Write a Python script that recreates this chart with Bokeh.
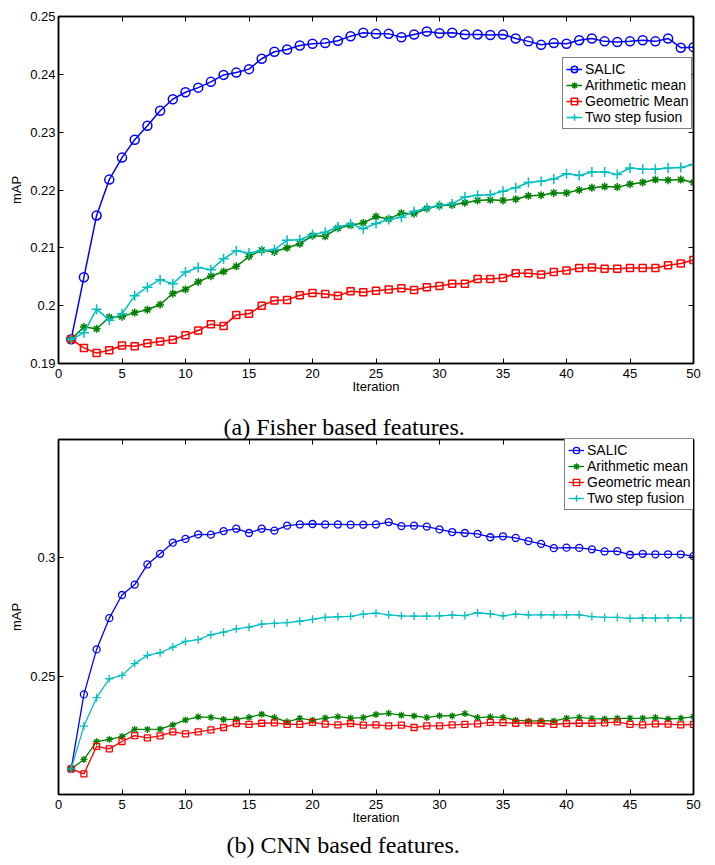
from bokeh.plotting import figure
from bokeh.models import Range1d, FixedTicker, LinearAxis, Title, Legend, LegendItem
from bokeh.layouts import column
from bokeh.embed import file_html
from bokeh.resources import INLINE

# ---------------- data ----------------
iterations = list(range(1, 51))
x_ticks = [0, 5, 10, 15, 20, 25, 30, 35, 40, 45, 50]
x_labels = ["0", "5", "10", "15", "20", "25", "30", "35", "40", "45", "50"]

fisher_y_ticks = [0.19, 0.2, 0.21, 0.22, 0.23, 0.24, 0.25]
fisher_y_labels = ["0.19", "0.2", "0.21", "0.22", "0.23", "0.24", "0.25"]
cnn_y_ticks = [0.25, 0.3]
cnn_y_labels = ["0.25", "0.3"]

fisher_salic = [0.1942, 0.2049, 0.2156, 0.2218, 0.2256, 0.2287, 0.2311, 0.2337, 0.2357, 0.2369,
                0.2377, 0.2387, 0.2399, 0.2403, 0.2409, 0.2427, 0.2439, 0.2443, 0.2450, 0.2453,
                0.2454, 0.2458, 0.2466, 0.2472, 0.2470, 0.2470, 0.2464, 0.2469, 0.2474, 0.2471,
                0.2472, 0.2469, 0.2469, 0.2468, 0.2469, 0.2462, 0.2457, 0.2451, 0.2454, 0.2453,
                0.2459, 0.2462, 0.2457, 0.2456, 0.2457, 0.2459, 0.2457, 0.2462, 0.2446, 0.2447]
fisher_arith = [0.1942, 0.1963, 0.1960, 0.1980, 0.1981, 0.1988, 0.1993, 0.2002, 0.2021, 0.2028,
                0.2041, 0.2051, 0.2059, 0.2068, 0.2085, 0.2096, 0.2093, 0.2100, 0.2107, 0.2121,
                0.2120, 0.2134, 0.2139, 0.2143, 0.2154, 0.2150, 0.2160, 0.2159, 0.2168, 0.2173,
                0.2174, 0.2178, 0.2182, 0.2183, 0.2182, 0.2184, 0.2190, 0.2191, 0.2195, 0.2195,
                0.2200, 0.2204, 0.2206, 0.2205, 0.2210, 0.2213, 0.2218, 0.2217, 0.2218, 0.2213]
fisher_geo = [0.1942, 0.1927, 0.1918, 0.1923, 0.1931, 0.1930, 0.1935, 0.1938, 0.1941, 0.1949,
              0.1957, 0.1968, 0.1965, 0.1984, 0.1986, 0.2000, 0.2009, 0.2010, 0.2018, 0.2022,
              0.2020, 0.2017, 0.2025, 0.2023, 0.2026, 0.2028, 0.2030, 0.2027, 0.2032, 0.2034,
              0.2038, 0.2038, 0.2046, 0.2046, 0.2048, 0.2056, 0.2056, 0.2054, 0.2058, 0.2061,
              0.2065, 0.2066, 0.2064, 0.2064, 0.2065, 0.2065, 0.2065, 0.2070, 0.2073, 0.2079]
fisher_two = [0.1942, 0.1953, 0.1994, 0.1975, 0.1986, 0.2017, 0.2032, 0.2045, 0.2038, 0.2058,
              0.2066, 0.2062, 0.2081, 0.2095, 0.2091, 0.2095, 0.2097, 0.2113, 0.2114, 0.2123,
              0.2127, 0.2136, 0.2141, 0.2133, 0.2142, 0.2149, 0.2153, 0.2163, 0.2169, 0.2173,
              0.2176, 0.2188, 0.2191, 0.2192, 0.2198, 0.2204, 0.2213, 0.2215, 0.2219, 0.2228,
              0.2225, 0.2231, 0.2231, 0.2227, 0.2238, 0.2236, 0.2236, 0.2238, 0.2239, 0.2244]

cnn_salic = [0.2108, 0.2423, 0.2613, 0.2745, 0.2843, 0.2887, 0.2972, 0.3017, 0.3064, 0.3080,
             0.3099, 0.3098, 0.3113, 0.3123, 0.3105, 0.3123, 0.3115, 0.3136, 0.3141, 0.3143,
             0.3141, 0.3141, 0.3140, 0.3140, 0.3141, 0.3151, 0.3134, 0.3136, 0.3132, 0.3120,
             0.3109, 0.3105, 0.3101, 0.3087, 0.3091, 0.3084, 0.3071, 0.3059, 0.3041, 0.3043,
             0.3042, 0.3036, 0.3027, 0.3028, 0.3013, 0.3017, 0.3015, 0.3015, 0.3015, 0.3007]
cnn_arith = [0.2108, 0.2148, 0.2223, 0.2233, 0.2245, 0.2275, 0.2275, 0.2276, 0.2294, 0.2315,
             0.2328, 0.2326, 0.2317, 0.2318, 0.2326, 0.2339, 0.2325, 0.2307, 0.2322, 0.2314,
             0.2323, 0.2329, 0.2323, 0.2325, 0.2338, 0.2343, 0.2335, 0.2332, 0.2325, 0.2333,
             0.2332, 0.2342, 0.2325, 0.2328, 0.2326, 0.2314, 0.2310, 0.2312, 0.2311, 0.2322,
             0.2326, 0.2321, 0.2319, 0.2322, 0.2322, 0.2322, 0.2325, 0.2319, 0.2322, 0.2329]
cnn_geo = [0.2108, 0.2087, 0.2203, 0.2193, 0.2224, 0.2249, 0.2239, 0.2248, 0.2265, 0.2256,
           0.2265, 0.2273, 0.2283, 0.2300, 0.2296, 0.2301, 0.2303, 0.2296, 0.2296, 0.2305,
           0.2297, 0.2294, 0.2300, 0.2293, 0.2294, 0.2290, 0.2293, 0.2283, 0.2290, 0.2290,
           0.2294, 0.2296, 0.2298, 0.2305, 0.2304, 0.2301, 0.2303, 0.2301, 0.2296, 0.2300,
           0.2301, 0.2301, 0.2303, 0.2307, 0.2296, 0.2294, 0.2298, 0.2297, 0.2294, 0.2296]
cnn_two = [0.2108, 0.2289, 0.2409, 0.2489, 0.2503, 0.2553, 0.2588, 0.2599, 0.2623, 0.2647,
           0.2654, 0.2675, 0.2686, 0.2700, 0.2707, 0.2720, 0.2723, 0.2726, 0.2732, 0.2740,
           0.2748, 0.2751, 0.2753, 0.2762, 0.2766, 0.2759, 0.2755, 0.2754, 0.2754, 0.2755,
           0.2758, 0.2756, 0.2768, 0.2763, 0.2755, 0.2762, 0.2759, 0.2759, 0.2759, 0.2759,
           0.2759, 0.2752, 0.2748, 0.2748, 0.2744, 0.2746, 0.2745, 0.2746, 0.2746, 0.2746]

fisher_names = ["SALIC", "Arithmetic mean", "Geometric Mean", "Two step fusion"]
cnn_names = ["SALIC", "Arithmetic mean", "Geometric mean", "Two step fusion"]

colors = ["#0000ff", "#008000", "#ff0000", "#00bfbf"]
markers = ["circle", "asterisk", "square", "cross"]

SANS = "Liberation Sans"
SERIF = "Liberation Serif"


def make_chart(series, names, y_rng, y_ticks, y_labels, height, top_border,
               bottom_border, legend_loc, sizes, lw):
    p = figure(width=715, height=height, x_range=Range1d(0, 50),
               y_range=Range1d(*y_rng), output_backend="svg",
               toolbar_location=None, min_border_left=58, min_border_right=22,
               min_border_top=top_border, min_border_bottom=bottom_border,
               x_axis_label="Iteration", y_axis_label="mAP")
    p.grid.visible = False
    p.outline_line_color = "black"
    p.outline_line_width = 1.5
    p.background_fill_color = "white"
    p.border_fill_color = "white"

    for ax, ticks, labels in ((p.xaxis[0], x_ticks, x_labels),
                              (p.yaxis[0], y_ticks, y_labels)):
        ax.ticker = FixedTicker(ticks=ticks)
        ax.major_label_overrides = {t: l for t, l in zip(ticks, labels)}
        ax.axis_line_width = 1.5
        ax.major_tick_in = 5
        ax.major_tick_out = 0
        ax.major_tick_line_width = 1
        ax.minor_tick_in = 0
        ax.minor_tick_out = 0
        ax.major_label_text_font = SANS
        ax.major_label_text_font_size = "13px"
        ax.major_label_text_color = "black"
        ax.axis_label_text_font = SANS
        ax.axis_label_text_font_size = "13px"
        ax.axis_label_text_font_style = "normal"
        ax.axis_label_text_color = "black"
    p.xaxis[0].major_label_standoff = 5
    p.xaxis[0].axis_label_standoff = -2
    p.yaxis[0].major_label_standoff = 3
    p.yaxis[0].axis_label_standoff = 3

    for side, ticks in (("above", x_ticks), ("right", y_ticks)):
        ax = LinearAxis(ticker=FixedTicker(ticks=ticks),
                        major_label_overrides={t: "" for t in ticks},
                        major_label_text_font_size="0px",
                        major_label_standoff=0, major_tick_in=5,
                        major_tick_out=0, minor_tick_in=0, minor_tick_out=0,
                        axis_line_width=1.5)
        p.add_layout(ax, side)

    items = []
    for vals, name, col, mk, sz in zip(series, names, colors, markers, sizes):
        r1 = p.line(iterations, vals, line_color=col, line_width=lw)
        r2 = p.scatter(iterations, vals, marker=mk, size=sz, line_color=col,
                       fill_color=None, line_width=lw)
        items.append(LegendItem(label=name, renderers=[r1, r2]))

    legend = Legend(items=items, location=legend_loc,
                    border_line_color="black", border_line_width=1.5,
                    background_fill_color="white", background_fill_alpha=1,
                    label_text_font=SANS, label_text_font_size="14px",
                    label_text_color="black",
                    glyph_width=16, glyph_height=16, label_height=16,
                    label_standoff=3, padding=3, spacing=0, margin=0)
    p.add_layout(legend)
    return p


p1 = make_chart([fisher_salic, fisher_arith, fisher_geo, fisher_two], fisher_names,
                (0.19, 0.25), fisher_y_ticks, fisher_y_labels,
                height=405, top_border=16, bottom_border=42,
                legend_loc=(504, 234), sizes=[9, 8, 7, 10], lw=1.5)

p2 = make_chart([cnn_salic, cnn_arith, cnn_geo, cnn_two], cnn_names,
                (0.2, 0.35), cnn_y_ticks, cnn_y_labels,
                height=460, top_border=34, bottom_border=71,
                legend_loc=(506, 284), sizes=[7, 7, 6, 8], lw=1.3)

cap_a = Title(text="(a) Fisher based features.", align="left", offset=165,
              text_font=SERIF, text_font_size="24px", text_font_style="normal",
              text_color="black", standoff=0)
p2.add_layout(cap_a, "above")

cap_b = Title(text="(b) CNN based features.", align="left", offset=168,
              text_font=SERIF, text_font_size="24px", text_font_style="normal",
              text_color="black", vertical_align="top", standoff=8)
p2.add_layout(cap_b, "below")

layout = column(p1, p2, spacing=0)
open("out.html", "w").write(file_html(layout, INLINE))
